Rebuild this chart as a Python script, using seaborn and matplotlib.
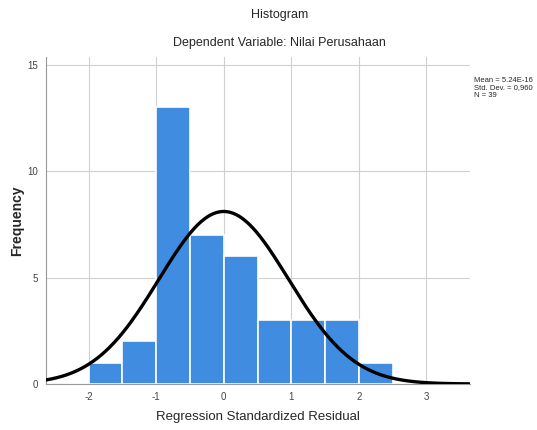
import numpy as np
import pandas as pd
import matplotlib.pyplot as plt
import seaborn as sns

sns.set_style("white")
plt.rcParams['font.family'] = ['Liberation Sans', 'DejaVu Sans']
plt.rcParams['axes.unicode_minus'] = False

# histogram data
bin_edges = [-2.0, -1.5, -1.0, -0.5, 0.0, 0.5, 1.0, 1.5, 2.0, 2.5]
counts = [1, 2, 13, 7, 6, 3, 3, 3, 1]
mean_val = 5.24e-16
std_val = 0.960
n_obs = 39

centers = [(a + b) / 2 for a, b in zip(bin_edges[:-1], bin_edges[1:])]
df = pd.DataFrame({"resid": centers, "count": counts})

fig = plt.figure(figsize=(5.37, 4.30), dpi=100)
ax = fig.add_axes([0.0857, 0.107, 0.789, 0.760])

sns.histplot(ax=ax, data=df, x="resid", weights="count", bins=bin_edges,
             color="#3F8CE0", alpha=1, edgecolor="white", linewidth=1.2, zorder=2)

# normal curve
bw = bin_edges[1] - bin_edges[0]
xs = np.linspace(-2.63, 3.64, 300)
ys = n_obs * bw * np.exp(-0.5 * ((xs - mean_val) / std_val) ** 2) / (std_val * np.sqrt(2 * np.pi))
ax.plot(xs, ys, color="black", lw=2.4, zorder=3)

ax.set_xlim(-2.63, 3.64)
ax.set_ylim(0, 15.35)
ax.set_xticks([-2, -1, 0, 1, 2, 3])
ax.set_yticks([0, 5, 10, 15])
ax.grid(True, color="#d0d0d0", lw=0.8, zorder=0)
ax.set_axisbelow(True)
ax.tick_params(labelsize=7, colors="#444444", length=0, pad=6)
for s in ["top", "right"]:
    ax.spines[s].set_visible(False)
for s in ["left", "bottom"]:
    ax.spines[s].set_color("#999999")
    ax.spines[s].set_linewidth(0.8)

ax.set_xlabel("Regression Standardized Residual", fontsize=9.5, labelpad=6)
ax.set_ylabel("Frequency", fontsize=10, fontweight="bold", labelpad=2)

fig.text(0.52, 0.965, "Histogram", ha="center", va="center", fontsize=9)
fig.text(0.52, 0.90, "Dependent Variable: Nilai Perusahaan", ha="center", va="center", fontsize=9)

fig.text(0.882, 0.822, f"Mean = 5.24E-16\nStd. Dev. = 0,960\nN = {n_obs}",
         ha="left", va="top", fontsize=5.5, linespacing=1.1)

fig.savefig("out.png", dpi=100)
